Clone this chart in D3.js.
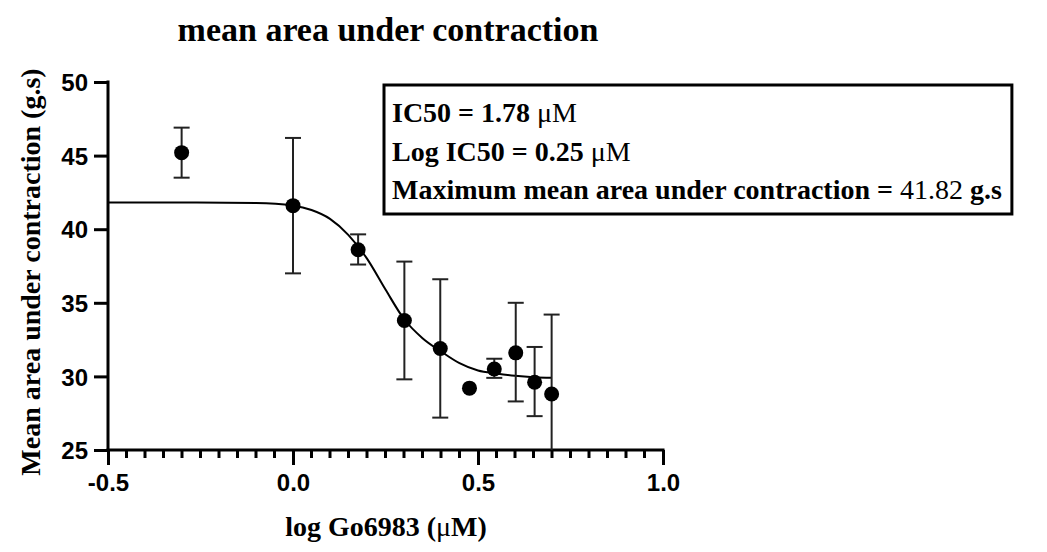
<!DOCTYPE html>
<html lang="en">
    <head>
        <meta charset="utf-8">
        <title>mean area under contraction</title>
        <script type="text/javascript" src="https://cdn.jsdelivr.net/npm/d3@7"></script>
		<style type="text/css">
			body { margin: 0; background: white; }
			svg text.serif { font-family: "Liberation Serif", "Times New Roman", serif; font-weight: bold; fill: black; }
			svg .tick text { font-family: "Liberation Sans", Arial, sans-serif; font-weight: bold; font-size: 24px; fill: black; }
		</style>
	</head>

	<body>
	<script type="text/javascript">
		// data
		var logDose = [-0.301, 0.0, 0.176, 0.301, 0.398, 0.477, 0.544, 0.602, 0.653, 0.699];
		var meanArea = [45.2, 41.6, 38.6, 33.8, 31.9, 29.2, 30.5, 31.6, 29.6, 28.8];
		var errLow = [43.5, 37.0, 37.6, 29.8, 27.2, 29.2, 29.9, 28.3, 27.3, 23.4];
		var errHigh = [46.9, 46.2, 39.65, 37.8, 36.6, 29.2, 31.2, 35.0, 32.0, 34.2];

		// fitted curve
		var fitX = [-0.5, -0.3, -0.1, 0.0, 0.05, 0.1, 0.15, 0.2, 0.25, 0.3, 0.35, 0.4, 0.45, 0.5, 0.55, 0.6, 0.65, 0.7];
		var fitY = [41.82, 41.82, 41.78, 41.6, 41.3, 40.7, 39.6, 38.0, 35.9, 33.9, 32.6, 31.7, 30.9, 30.4, 30.2, 30.05, 29.95, 29.9];

		var xTicks = [-0.5, 0.0, 0.5, 1.0];
		var xTickLabels = ["-0.5", "0.0", "0.5", "1.0"];
		var yTicks = [25, 30, 35, 40, 45, 50];

		var w = 1047;
		var h = 552;
		var svg = d3.select("body")
					.append("svg")
					.attr("width", w).attr("height", h);

		var x = d3.scaleLinear().domain([-0.5, 1.0]).range([108, 663]);
		var y = d3.scaleLinear().domain([25, 50]).range([450, 82]);

		svg.append("clipPath").attr("id", "plot")
			.append("rect")
			.attr("x", x(-0.5)).attr("y", y(50))
			.attr("width", x(1.0) - x(-0.5)).attr("height", y(25) - y(50));

		// Title
		svg.append("text")
			.attr("class", "serif")
			.attr("x", 388).attr("y", 41)
			.attr("text-anchor", "middle")
			.style("font-size", "34px")
			.text("mean area under contraction");

		// Axes
		var xAxis = d3.axisBottom(x).tickValues(xTicks)
			.tickFormat(function (d, i) { return xTickLabels[i]; })
			.tickSize(15).tickPadding(9);
		var gx = svg.append("g")
			.attr("transform", "translate(0," + y(25) + ")")
			.call(xAxis);
		gx.select(".domain").remove();
		gx.selectAll(".tick line").attr("stroke-width", 3);

		// minor ticks on x
		gx.selectAll("line.minor")
			.data(d3.range(-0.45, 1.0, 0.05).filter(function (d) {
				return Math.abs(d * 2 - Math.round(d * 2)) > 0.01;
			}))
			.enter()
			.append("line")
			.attr("class", "minor")
			.attr("x1", function (d) { return x(d); })
			.attr("x2", function (d) { return x(d); })
			.attr("y1", 0).attr("y2", 8)
			.attr("stroke", "black").attr("stroke-width", 3);

		gx.append("line")
			.attr("x1", x(-0.5) - 1.5).attr("x2", x(1.0) + 1.5)
			.attr("y1", 0).attr("y2", 0)
			.attr("stroke", "black").attr("stroke-width", 3);

		var yAxis = d3.axisLeft(y).tickValues(yTicks).tickSize(14).tickPadding(6);
		var gy = svg.append("g")
			.attr("transform", "translate(" + x(-0.5) + ",0)")
			.call(yAxis);
		gy.select(".domain").remove();
		gy.selectAll(".tick line").attr("stroke-width", 3);
		gy.append("line")
			.attr("x1", 0).attr("x2", 0)
			.attr("y1", y(25) + 1.5).attr("y2", y(50) - 1.5)
			.attr("stroke", "black").attr("stroke-width", 3);
		gy.selectAll(".tick text").attr("dy", "0.36em");

		// Axis titles
		svg.append("text")
			.attr("class", "serif")
			.attr("x", 386).attr("y", 536)
			.attr("text-anchor", "middle")
			.style("font-size", "28px")
			.text("log Go6983 (")
			.append("tspan").style("font-weight", "normal").text("\u03bc")
			.select(function () { return this.parentNode; })
			.append("tspan").text("M)");

		svg.append("text")
			.attr("class", "serif")
			.attr("transform", "translate(40," + 272 + ") rotate(-90)")
			.attr("text-anchor", "middle")
			.style("font-size", "28px")
			.text("Mean area under contraction (g.s)");

		var plot = svg.append("g").attr("clip-path", "url(#plot)");

		// Fitted curve
		var line = d3.line()
			.x(function (d) { return x(d[0]); })
			.y(function (d) { return y(d[1]); })
			.curve(d3.curveMonotoneX);
		plot.append("path")
			.datum(d3.zip(fitX, fitY))
			.attr("d", line)
			.attr("fill", "none")
			.attr("stroke", "black")
			.attr("stroke-width", 2);

		// Error bars
		var idx = d3.range(logDose.length);
		var bars = plot.selectAll("g.err")
			.data(idx.filter(function (i) { return errHigh[i] - errLow[i] > 0.01; }))
			.enter()
			.append("g")
			.attr("class", "err")
			.attr("stroke", "#222")
			.attr("stroke-width", 2);
		bars.append("line")
			.attr("x1", function (i) { return x(logDose[i]); })
			.attr("x2", function (i) { return x(logDose[i]); })
			.attr("y1", function (i) { return y(errLow[i]); })
			.attr("y2", function (i) { return y(errHigh[i]); });
		bars.append("line")
			.attr("x1", function (i) { return x(logDose[i]) - 8; })
			.attr("x2", function (i) { return x(logDose[i]) + 8; })
			.attr("y1", function (i) { return y(errHigh[i]); })
			.attr("y2", function (i) { return y(errHigh[i]); });
		bars.append("line")
			.attr("x1", function (i) { return x(logDose[i]) - 8; })
			.attr("x2", function (i) { return x(logDose[i]) + 8; })
			.attr("y1", function (i) { return y(errLow[i]); })
			.attr("y2", function (i) { return y(errLow[i]); });

		// Points
		svg.selectAll("circle")
			.data(idx)
			.enter()
			.append("circle")
			.attr("cx", function (i) { return x(logDose[i]); })
			.attr("cy", function (i) { return y(meanArea[i]); })
			.attr("r", 7.5)
			.attr("fill", "black");

		// Results box
		var box = svg.append("rect")
			.attr("x", 384).attr("y", 85)
			.attr("height", 129)
			.attr("fill", "white")
			.attr("stroke", "black")
			.attr("stroke-width", 3);

		var lines = [
			[["IC50 = 1.78 ", "bold"], ["\u03bcM", "normal"]],
			[["Log IC50 = 0.25 ", "bold"], ["\u03bcM", "normal"]],
			[["Maximum mean area under contraction = ", "bold"], ["41.82", "normal"], [" g.s", "bold"]]
		];
		var texts = svg.selectAll("text.box")
			.data(lines)
			.enter()
			.append("text")
			.attr("class", "serif box")
			.attr("x", 392)
			.attr("y", function (d, i) { return 122 + i * 38.5; })
			.style("font-size", "28px");
		texts.selectAll("tspan")
			.data(function (d) { return d; })
			.enter()
			.append("tspan")
			.style("font-weight", function (d) { return d[1]; })
			.text(function (d) { return d[0]; });

		// box fits the widest line
		var maxW = d3.max(texts.nodes(), function (n) { return n.getComputedTextLength(); });
		box.attr("width", maxW + 18);

	</script>
	</body>
</html>
